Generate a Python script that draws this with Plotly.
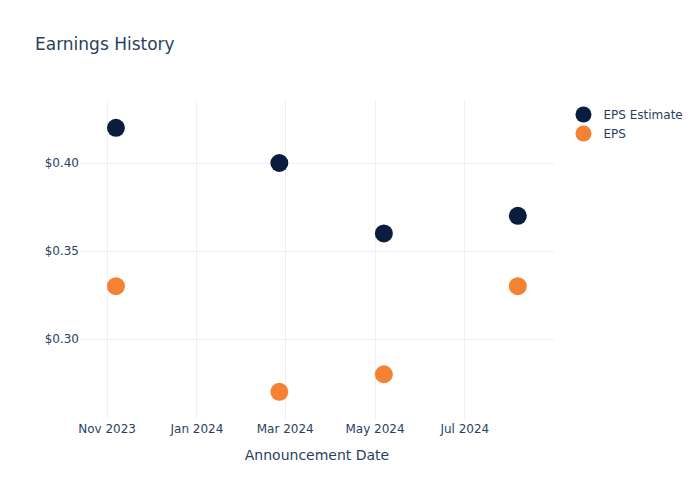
import plotly.graph_objects as go

dates = ["2023-11-07", "2024-02-26", "2024-05-07", "2024-08-06"]
eps_estimate = [0.42, 0.40, 0.36, 0.37]
eps_actual = [0.33, 0.27, 0.28, 0.33]

fig = go.Figure()
fig.add_trace(go.Scatter(x=dates, y=eps_estimate, mode="markers", name="EPS Estimate",
                         marker=dict(color="#0b1d3f", size=18)))
fig.add_trace(go.Scatter(x=dates, y=eps_actual, mode="markers", name="EPS",
                         marker=dict(color="#f58233", size=18)))
fig.update_layout(
    template="plotly_white",
    width=700, height=500,
    font=dict(family="DejaVu Sans"),
    title=dict(text="Earnings History"),
    xaxis=dict(title=dict(text="Announcement Date"), tickformat="%b %Y", dtick="M2",
               range=["2023-10-13 14:00", "2024-08-30 14:00"]),
    yaxis=dict(tickprefix="$", tickformat=".2f", range=[0.2540, 0.4358]),
)
fig.write_html("out.html")
